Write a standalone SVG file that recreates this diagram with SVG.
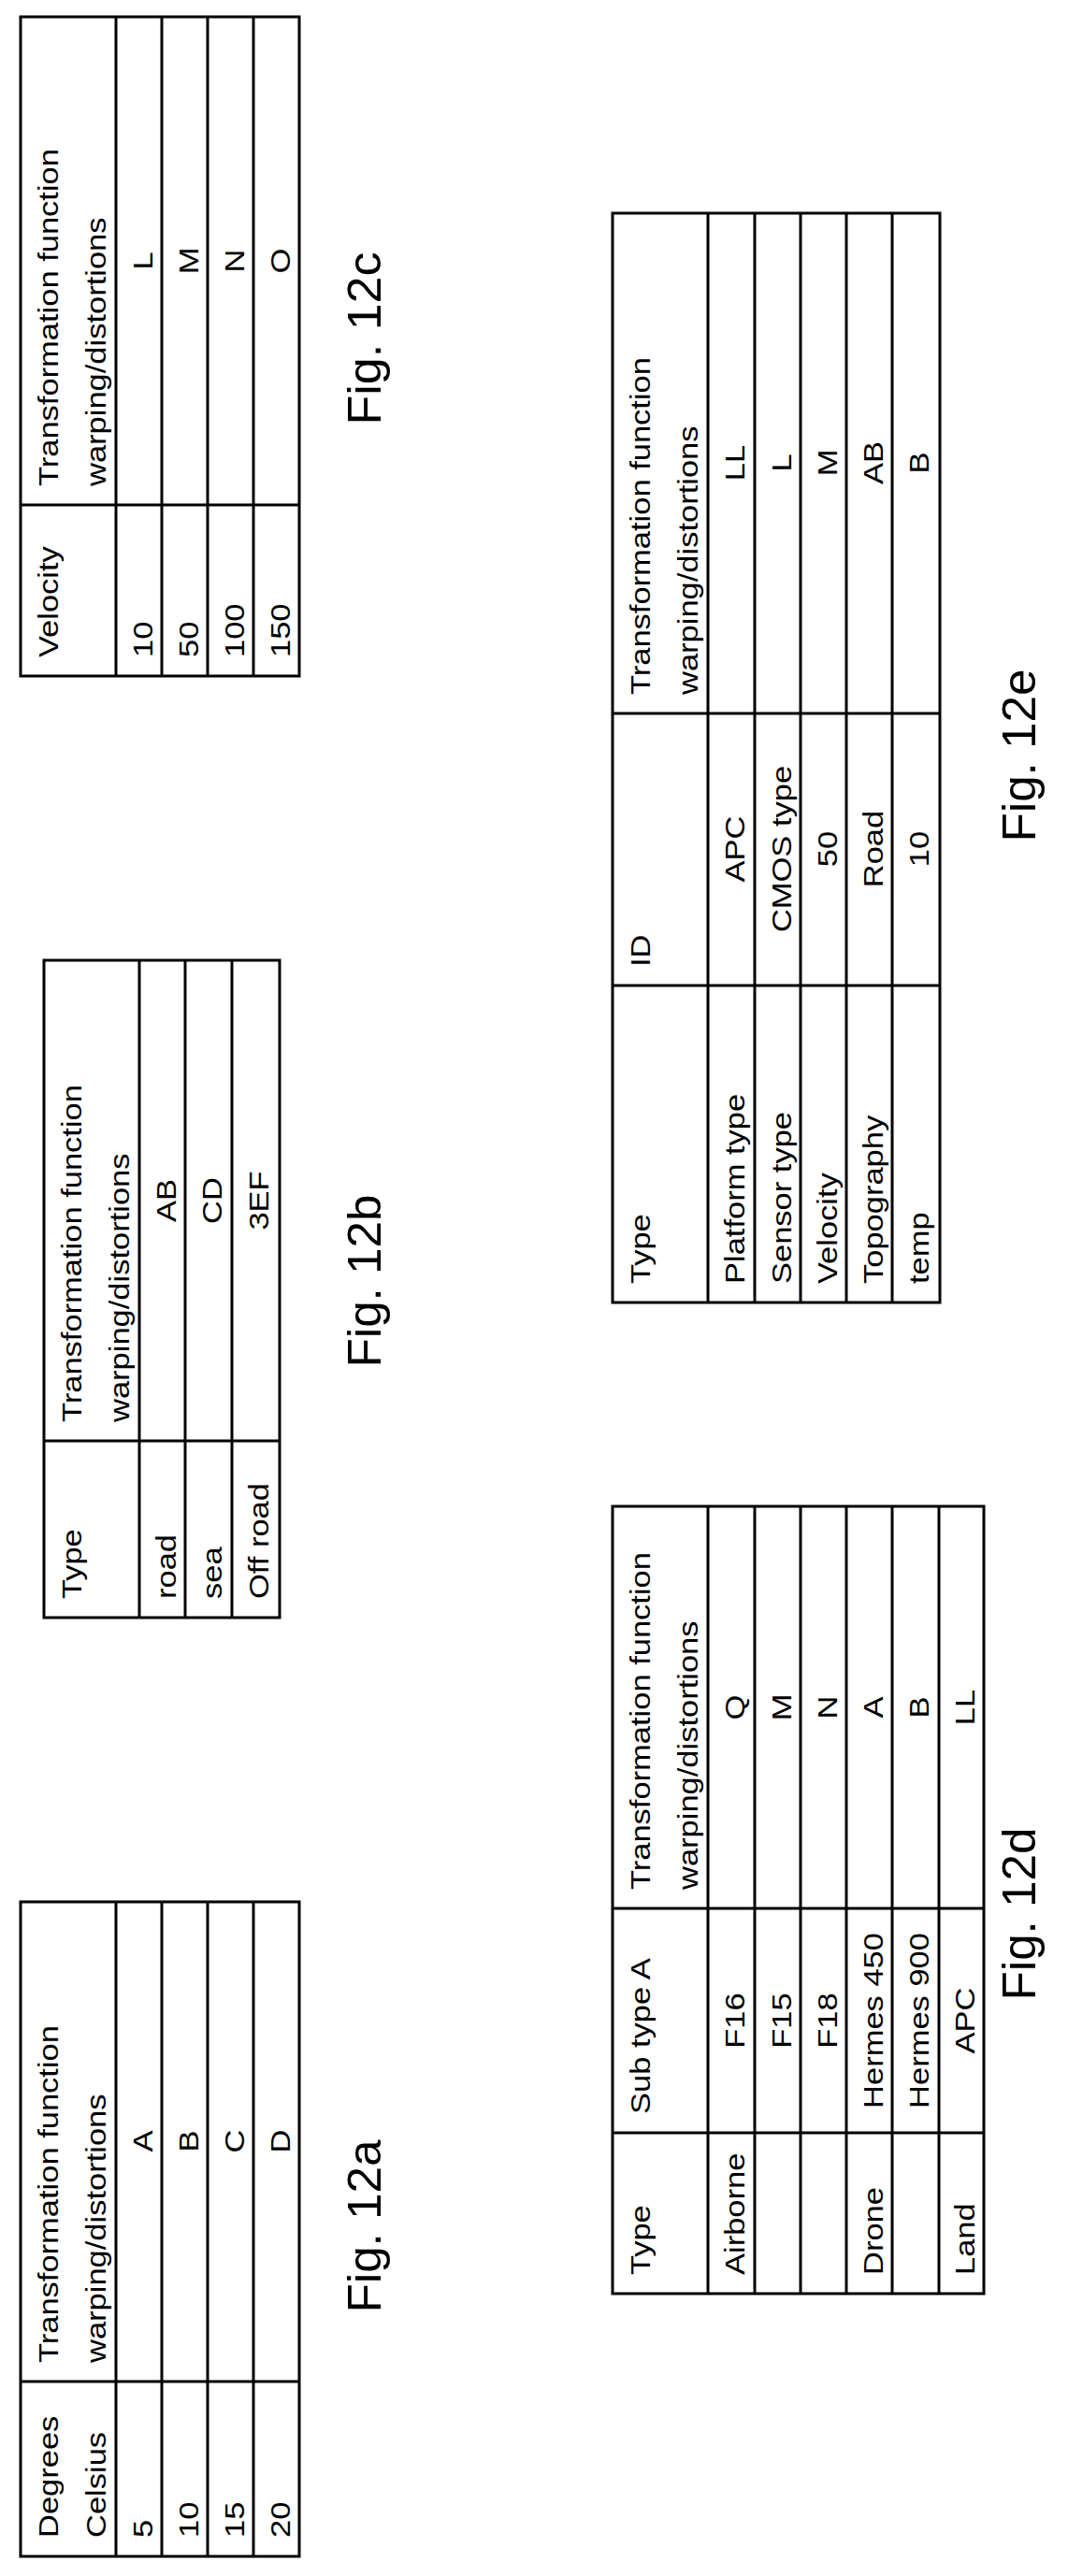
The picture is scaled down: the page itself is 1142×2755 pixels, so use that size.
<svg xmlns="http://www.w3.org/2000/svg" width="1142" height="2755" viewBox="0 0 1142 2755">
<style>
.b{fill:none;stroke:#000;stroke-width:3}
.l{stroke:#000;stroke-width:3}
text{font-family:"Liberation Sans",Arial,sans-serif;font-size:30px;fill:#000}
.m{text-anchor:middle}
.cap{font-size:50px;text-anchor:middle}
</style>
<rect width="1142" height="2755" fill="#fff"/>
<g id="fig12a">
<rect class="b" x="22" y="2034" width="298" height="700"/>
<line class="l" x1="22" y1="2547" x2="320" y2="2547"/>
<line class="l" x1="124" y1="2034" x2="124" y2="2734"/><line class="l" x1="173" y1="2034" x2="173" y2="2734"/><line class="l" x1="222" y1="2034" x2="222" y2="2734"/><line class="l" x1="271" y1="2034" x2="271" y2="2734"/>
<text transform="translate(62,2714) rotate(-90) scale(1.15,1)">Degrees</text>
<text transform="translate(113,2714) rotate(-90) scale(1.15,1)">Celsius</text>
<text transform="translate(62,2527) rotate(-90) scale(1.15,1)">Transformation function</text>
<text transform="translate(113,2527) rotate(-90) scale(1.15,1)">warping/distortions</text>
<text transform="translate(163,2714) rotate(-90) scale(1.15,1)">5</text>
<text transform="translate(212,2714) rotate(-90) scale(1.15,1)">10</text>
<text transform="translate(261,2714) rotate(-90) scale(1.15,1)">15</text>
<text transform="translate(310,2714) rotate(-90) scale(1.15,1)">20</text>
<text class="m" transform="translate(163,2290) rotate(-90) scale(1.15,1)">A</text>
<text class="m" transform="translate(212,2290) rotate(-90) scale(1.15,1)">B</text>
<text class="m" transform="translate(261,2290) rotate(-90) scale(1.15,1)">C</text>
<text class="m" transform="translate(310,2290) rotate(-90) scale(1.15,1)">D</text>
<text class="cap" transform="translate(407,2381) rotate(-90)" textLength="185" lengthAdjust="spacingAndGlyphs">Fig. 12a</text>
</g>
<g id="fig12b">
<rect class="b" x="47" y="1027" width="252" height="703"/>
<line class="l" x1="47" y1="1541" x2="299" y2="1541"/>
<line class="l" x1="149" y1="1027" x2="149" y2="1730"/><line class="l" x1="198" y1="1027" x2="198" y2="1730"/><line class="l" x1="248" y1="1027" x2="248" y2="1730"/>
<text transform="translate(87,1710) rotate(-90) scale(1.15,1)">Type</text>
<text transform="translate(87,1521) rotate(-90) scale(1.15,1)">Transformation function</text>
<text transform="translate(138,1521) rotate(-90) scale(1.15,1)">warping/distortions</text>
<text transform="translate(188,1710) rotate(-90) scale(1.15,1)">road</text>
<text transform="translate(237,1710) rotate(-90) scale(1.15,1)">sea</text>
<text transform="translate(287,1710) rotate(-90) scale(1.15,1)">Off road</text>
<text class="m" transform="translate(188,1284) rotate(-90) scale(1.15,1)">AB</text>
<text class="m" transform="translate(237,1284) rotate(-90) scale(1.15,1)">CD</text>
<text class="m" transform="translate(287,1284) rotate(-90) scale(1.15,1)">3EF</text>
<text class="cap" transform="translate(407,1370) rotate(-90)" textLength="185" lengthAdjust="spacingAndGlyphs">Fig. 12b</text>
</g>
<g id="fig12c">
<rect class="b" x="22" y="18" width="298" height="705"/>
<line class="l" x1="22" y1="540" x2="320" y2="540"/>
<line class="l" x1="124" y1="18" x2="124" y2="723"/><line class="l" x1="173" y1="18" x2="173" y2="723"/><line class="l" x1="222" y1="18" x2="222" y2="723"/><line class="l" x1="271" y1="18" x2="271" y2="723"/>
<text transform="translate(62,703) rotate(-90) scale(1.15,1)">Velocity</text>
<text transform="translate(62,520) rotate(-90) scale(1.15,1)">Transformation function</text>
<text transform="translate(113,520) rotate(-90) scale(1.15,1)">warping/distortions</text>
<text transform="translate(163,703) rotate(-90) scale(1.15,1)">10</text>
<text transform="translate(212,703) rotate(-90) scale(1.15,1)">50</text>
<text transform="translate(261,703) rotate(-90) scale(1.15,1)">100</text>
<text transform="translate(310,703) rotate(-90) scale(1.15,1)">150</text>
<text class="m" transform="translate(163,279) rotate(-90) scale(1.15,1)">L</text>
<text class="m" transform="translate(212,279) rotate(-90) scale(1.15,1)">M</text>
<text class="m" transform="translate(261,279) rotate(-90) scale(1.15,1)">N</text>
<text class="m" transform="translate(310,279) rotate(-90) scale(1.15,1)">O</text>
<text class="cap" transform="translate(407,362) rotate(-90)" textLength="185" lengthAdjust="spacingAndGlyphs">Fig. 12c</text>
</g>
<g id="fig12d">
<rect class="b" x="655" y="1611" width="397" height="842"/>
<line class="l" x1="655" y1="2041" x2="1052" y2="2041"/><line class="l" x1="655" y1="2281" x2="1052" y2="2281"/>
<line class="l" x1="757" y1="1611" x2="757" y2="2453"/><line class="l" x1="807" y1="1611" x2="807" y2="2453"/><line class="l" x1="856" y1="1611" x2="856" y2="2453"/><line class="l" x1="905" y1="1611" x2="905" y2="2453"/><line class="l" x1="954" y1="1611" x2="954" y2="2453"/><line class="l" x1="1004" y1="1611" x2="1004" y2="2453"/>
<text transform="translate(695,2433) rotate(-90) scale(1.15,1)">Type</text>
<text transform="translate(695,2261) rotate(-90) scale(1.15,1)">Sub type A</text>
<text transform="translate(695,2021) rotate(-90) scale(1.15,1)">Transformation function</text>
<text transform="translate(746,2021) rotate(-90) scale(1.15,1)">warping/distortions</text>
<text transform="translate(796,2433) rotate(-90) scale(1.15,1)">Airborne</text>
<text transform="translate(944,2433) rotate(-90) scale(1.15,1)">Drone</text>
<text transform="translate(1042,2433) rotate(-90) scale(1.15,1)">Land</text>
<text class="m" transform="translate(796,2161) rotate(-90) scale(1.15,1)">F16</text>
<text class="m" transform="translate(846,2161) rotate(-90) scale(1.15,1)">F15</text>
<text class="m" transform="translate(895,2161) rotate(-90) scale(1.15,1)">F18</text>
<text class="m" transform="translate(944,2161) rotate(-90) scale(1.15,1)">Hermes 450</text>
<text class="m" transform="translate(993,2161) rotate(-90) scale(1.15,1)">Hermes 900</text>
<text class="m" transform="translate(1042,2161) rotate(-90) scale(1.15,1)">APC</text>
<text class="m" transform="translate(796,1826) rotate(-90) scale(1.15,1)">Q</text>
<text class="m" transform="translate(846,1826) rotate(-90) scale(1.15,1)">M</text>
<text class="m" transform="translate(895,1826) rotate(-90) scale(1.15,1)">N</text>
<text class="m" transform="translate(944,1826) rotate(-90) scale(1.15,1)">A</text>
<text class="m" transform="translate(993,1826) rotate(-90) scale(1.15,1)">B</text>
<text class="m" transform="translate(1042,1826) rotate(-90) scale(1.15,1)">LL</text>
<text class="cap" transform="translate(1107,2047) rotate(-90)" textLength="185" lengthAdjust="spacingAndGlyphs">Fig. 12d</text>
</g>
<g id="fig12e">
<rect class="b" x="655" y="228" width="350" height="1165"/>
<line class="l" x1="655" y1="763" x2="1005" y2="763"/><line class="l" x1="655" y1="1054" x2="1005" y2="1054"/>
<line class="l" x1="757" y1="228" x2="757" y2="1393"/><line class="l" x1="807" y1="228" x2="807" y2="1393"/><line class="l" x1="856" y1="228" x2="856" y2="1393"/><line class="l" x1="905" y1="228" x2="905" y2="1393"/><line class="l" x1="954" y1="228" x2="954" y2="1393"/>
<text transform="translate(695,1373) rotate(-90) scale(1.15,1)">Type</text>
<text transform="translate(695,1034) rotate(-90) scale(1.15,1)">ID</text>
<text transform="translate(695,743) rotate(-90) scale(1.15,1)">Transformation function</text>
<text transform="translate(746,743) rotate(-90) scale(1.15,1)">warping/distortions</text>
<text transform="translate(796,1373) rotate(-90) scale(1.15,1)">Platform type</text>
<text transform="translate(846,1373) rotate(-90) scale(1.15,1)">Sensor type</text>
<text transform="translate(895,1373) rotate(-90) scale(1.15,1)">Velocity</text>
<text transform="translate(944,1373) rotate(-90) scale(1.15,1)">Topography</text>
<text transform="translate(993,1373) rotate(-90) scale(1.15,1)">temp</text>
<text class="m" transform="translate(796,908) rotate(-90) scale(1.15,1)">APC</text>
<text class="m" transform="translate(846,908) rotate(-90) scale(1.15,1)">CMOS type</text>
<text class="m" transform="translate(895,908) rotate(-90) scale(1.15,1)">50</text>
<text class="m" transform="translate(944,908) rotate(-90) scale(1.15,1)">Road</text>
<text class="m" transform="translate(993,908) rotate(-90) scale(1.15,1)">10</text>
<text class="m" transform="translate(796,495) rotate(-90) scale(1.15,1)">LL</text>
<text class="m" transform="translate(846,495) rotate(-90) scale(1.15,1)">L</text>
<text class="m" transform="translate(895,495) rotate(-90) scale(1.15,1)">M</text>
<text class="m" transform="translate(944,495) rotate(-90) scale(1.15,1)">AB</text>
<text class="m" transform="translate(993,495) rotate(-90) scale(1.15,1)">B</text>
<text class="cap" transform="translate(1107,808) rotate(-90)" textLength="185" lengthAdjust="spacingAndGlyphs">Fig. 12e</text>
</g>
<g id="connectors"/>
</svg>
